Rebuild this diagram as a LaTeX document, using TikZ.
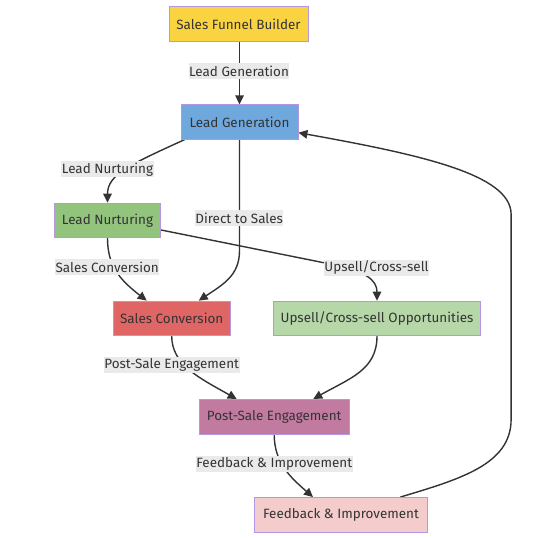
\documentclass[tikz,border=0pt]{standalone}
\usepackage{fontspec}
\setmainfont{Fira Sans}
\usetikzlibrary{arrows.meta,backgrounds}

\definecolor{ink}{HTML}{333333}
\definecolor{edgegray}{HTML}{333333}
\definecolor{boxline}{RGB}{180,150,225}
\definecolor{lblgray}{HTML}{EAEAEA}
\definecolor{funnelfill}{RGB}{250,211,64}
\definecolor{genfill}{HTML}{6FA8DC}
\definecolor{nurturefill}{HTML}{93C47D}
\definecolor{convfill}{HTML}{E06666}
\definecolor{upsellfill}{HTML}{B6D7A8}
\definecolor{postfill}{HTML}{C27BA0}
\definecolor{feedfill}{HTML}{F4CCCC}

\begin{document}
\begin{tikzpicture}[x=1bp, y=-1bp,
    stage/.style={draw=boxline, line width=0.8bp, text=ink, inner sep=0pt,
      minimum height=34.5bp, font=\fontsize{13.5}{16}\selectfont},
    lbl/.style={fill=lblgray, text=ink, inner xsep=0.5bp, inner ysep=0pt,
      minimum height=16bp, font=\fontsize{13.5}{16}\selectfont},
    flow/.style={draw=edgegray, line width=1.4bp, -{Triangle[length=9bp, width=8.5bp]}}]

      \useasboundingbox (0,0) rectangle (553,538);

      % Stages
      \node[stage, fill=funnelfill, minimum width=139bp] (sfb) at (238.5,24) {Sales Funnel Builder};
      \node[stage, fill=genfill, minimum width=117bp] (lg) at (239.5,122) {Lead Generation};
      \node[stage, fill=nurturefill, minimum width=106.4bp] (ln) at (107.5,220.3) {Lead Nurturing};
      \node[stage, fill=convfill, minimum width=116.7bp] (sc) at (171.7,318.3) {Sales Conversion};
      \node[stage, fill=upsellfill, minimum width=207.4bp] (up) at (377,318.3) {Upsell/Cross-sell Opportunities};
      \node[stage, fill=postfill, minimum width=150.3bp] (ps) at (274.2,416.7) {Post-Sale Engagement};
      \node[stage, fill=feedfill, minimum width=173.4bp] (fb) at (341,514.7) {Feedback \& Improvement};

      % Edge labels
      \node[lbl] (lgen) at (239,71) {Lead Generation};
      \node[lbl] (lnur) at (107.5,169.5) {Lead Nurturing};
      \node[lbl] (ldir) at (239.2,218) {Direct to Sales};
      \node[lbl] (lconv) at (107.2,267.3) {Sales Conversion};
      \node[lbl] (lups) at (376.5,267.7) {Upsell/Cross-sell};
      \node[lbl] (lpost) at (171.7,365.3) {Post-Sale Engagement};
      \node[lbl] (lfeed) at (274.2,464.2) {Feedback \& Improvement};

      % Connectors, kept under the labels
      \begin{scope}[on background layer]
        \draw[flow] (lg.north |- sfb.south) -- (lg.north);
        \draw[flow] ([xshift=4bp]lg.south west) .. controls +(-55,25) and +(0,-28) .. (ln.north);
        \draw[flow] (lg.south) -- ++(0,111) .. controls +(0,25) and +(24,-16) .. ([xshift=-31.7bp]sc.north east);
        \draw[flow] (ln.south) .. controls +(0,28) and +(-27,-21) .. ([xshift=-25bp]sc.north);
        \draw[flow] ([yshift=-9.7bp]ln.east) -- ++(169,34) .. controls +(35,7) and +(0,-21) .. (up.north);
        \draw[flow] (sc.south) .. controls +(0,29) and +(-37,-21) .. ([xshift=-37.5bp]ps.north);
        \draw[flow] (up.south) .. controls +(0,34) and +(37,-21) .. ([xshift=39bp]ps.north);
        \draw[flow] (ps.south) .. controls +(0,28) and +(-23,-20) .. ([xshift=-28bp]fb.north);

        % Feedback loop back to lead generation
        \draw[flow] ([xshift=-27.7bp]fb.north east) .. controls +(60,-18) and +(0,45) .. ++(110.7,-77.7)
          -- ++(0,-205) .. controls +(0,-40) and +(122,22) .. ([yshift=-10.7bp]lg.east);
      \end{scope}
    \end{tikzpicture}
\end{document}
